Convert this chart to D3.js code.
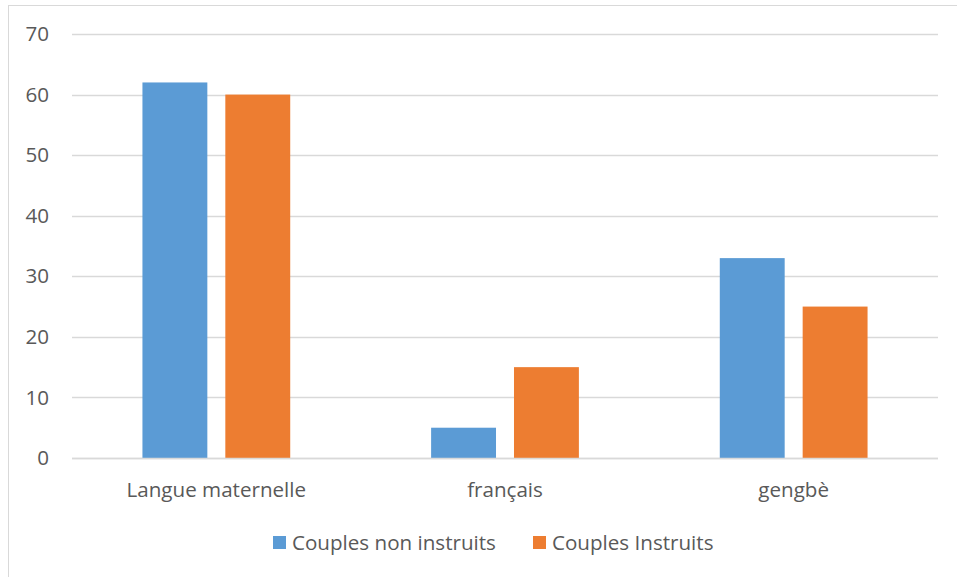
<!DOCTYPE html>
<html><head><meta charset="utf-8">
<script src="https://cdn.jsdelivr.net/npm/d3@7"></script>
<style>html,body{margin:0;padding:0;background:#fff;overflow:hidden}</style>
</head><body>
<svg id="c" width="957" height="577"></svg>
<script>
const categories = ["Langue maternelle", "français", "gengbè"];
const seriesNames = ["Couples non instruits", "Couples Instruits"];
const nonInstruits = [62, 5, 33];
const instruits = [60, 15, 25];
const yTicks = [0, 10, 20, 30, 40, 50, 60, 70];
const colors = ["#5B9BD5", "#ED7D31"];

const svg = d3.select("#c");
const font = "'Open Sans', sans-serif";
const fs = 20.6;
const textColor = "#595959";

// chart border
svg.append("rect").attr("x", 8.5).attr("y", 5.5).attr("width", 1000).attr("height", 1000)
  .attr("fill", "none").attr("stroke", "#D9D9D9").attr("stroke-width", 1);

const m = {left: 72, right: 938, top: 34, bottom: 458};
const x0 = d3.scaleBand().domain(categories).range([m.left, m.right]).padding(0);
const y = d3.scaleLinear().domain([0, 70]).range([m.bottom, m.top]);
const x1 = d3.scaleBand().domain(seriesNames).range([0, x0.bandwidth()]).paddingInner(0.217).paddingOuter(0.85);

// gridlines
svg.append("g").selectAll("line").data(yTicks).join("line")
  .attr("x1", m.left).attr("x2", m.right)
  .attr("y1", d => Math.round(y(d)) + 0.5).attr("y2", d => Math.round(y(d)) + 0.5)
  .attr("stroke", "#D9D9D9").attr("stroke-width", 1.5);

// y tick labels
svg.append("g").selectAll("text").data(yTicks).join("text")
  .attr("x", 49).attr("y", d => y(d)).attr("dy", "0.35em")
  .attr("text-anchor", "end").attr("font-family", font).attr("font-size", fs)
  .attr("fill", textColor).text(d => d);

const data = categories.map((c, i) => ({cat: c, vals: [nonInstruits[i], instruits[i]]}));

// bars
const g = svg.append("g");
data.forEach(d => {
  d.vals.forEach((v, j) => {
    g.append("rect")
      .attr("x", x0(d.cat) + x1(seriesNames[j]))
      .attr("y", y(v))
      .attr("width", x1.bandwidth())
      .attr("height", y(0) - y(v))
      .attr("fill", colors[j]);
  });
});

// baseline
svg.append("line").attr("x1", m.left).attr("x2", m.right)
  .attr("y1", Math.round(y(0)) + 0.5).attr("y2", Math.round(y(0)) + 0.5)
  .attr("stroke", "#D9D9D9").attr("stroke-width", 1.5);

// category labels
svg.append("g").selectAll("text").data(categories).join("text")
  .attr("x", d => x0(d) + x0.bandwidth() / 2).attr("y", 497)
  .attr("text-anchor", "middle").attr("font-family", font).attr("font-size", fs)
  .attr("fill", textColor).text(d => d);

// legend
const legendX = [273, 533];
const lg = svg.append("g");
seriesNames.forEach((s, j) => {
  lg.append("rect").attr("x", legendX[j]).attr("y", 536).attr("width", 13).attr("height", 13).attr("fill", colors[j]);
  lg.append("text").attr("x", legendX[j] + 19).attr("y", 550)
    .attr("font-family", font).attr("font-size", fs).attr("fill", textColor).text(s);
});
</script>
</body></html>
